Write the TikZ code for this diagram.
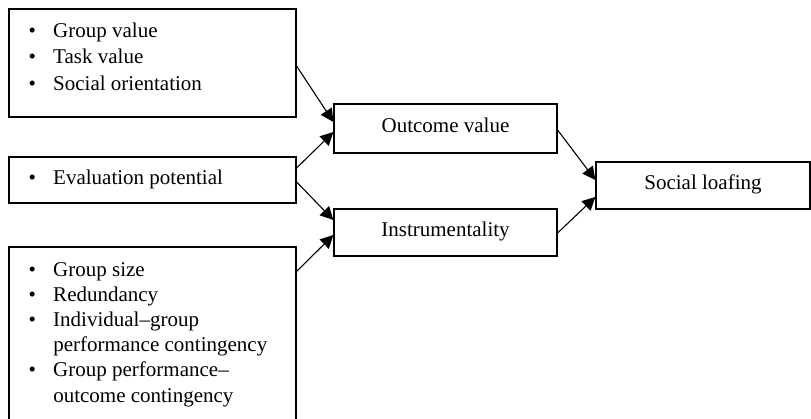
\documentclass[tikz,border=0pt]{standalone}
\usepackage{fontspec}
\setmainfont{Liberation Serif}
\usetikzlibrary{arrows.meta}
\begin{document}
\begin{tikzpicture}[x=1pt,y=-1pt,
  box/.style={draw, line width=1.2pt, rectangle, inner sep=0pt},
  label/.style={box, text height=14pt, text depth=5.5pt, font=\fontsize{21}{25}\selectfont},
  listtext/.style={anchor=base west, inner sep=0pt},
  link/.style={line width=1.1pt, -{Triangle[length=13pt,width=13pt]}}]
\useasboundingbox (0,0) rectangle (811,418);
\clip (0,0) rectangle (811,418);

% antecedent boxes
\node[box, minimum width=287pt, minimum height=108pt] (b1) at (152.5,63) {};
\node[box, minimum width=287pt, minimum height=46pt] (b2) at (152.5,180) {};
\node[box, minimum width=287pt, minimum height=193pt] (b3) at (152.5,343.5) {};

\node[listtext, font=\fontsize{21}{26.5}\selectfont] (t1) at (28.5,37) {%
  \begin{tabular}[t]{@{}l@{\hspace{17.2pt}}l@{}}
  \textbullet & Group value\\
  \textbullet & Task value\\
  \textbullet & Social orientation
  \end{tabular}};
\node[listtext, font=\fontsize{21}{25}\selectfont] (t2) at (28.5,184) {%
  \begin{tabular}[t]{@{}l@{\hspace{17.2pt}}l@{}}
  \textbullet & Evaluation potential
  \end{tabular}};
\node[listtext, font=\fontsize{21}{25.2}\selectfont] (t3) at (28.5,276) {%
  \begin{tabular}[t]{@{}l@{\hspace{17.2pt}}l@{}}
  \textbullet & Group size\\
  \textbullet & Redundancy\\
  \textbullet & Individual–group\\
              & performance contingency\\
  \textbullet & Group performance–\\
              & outcome contingency
  \end{tabular}};

% mediators and outcome
\node[label, minimum width=223pt, minimum height=49pt] (oc) at (445.5,128.5) {Outcome value};
\node[label, minimum width=223pt, minimum height=47pt] (in) at (445.5,232.5) {Instrumentality};
\node[label, minimum width=214pt, minimum height=47pt] (sl) at (703,185.5) {Social loafing};

% paths
\draw[link] ([yshift=-3pt]b1.east) -- ([yshift=6.5pt]oc.west);
\draw[link] ([yshift=12pt]b2.east) -- ([yshift=-3.5pt]oc.west);
\draw[link] ([yshift=-2pt]b2.east) -- ([yshift=12.5pt]in.west);
\draw[link] ([yshift=-25pt]b3.north east) -- ([yshift=-2.5pt]in.west);
\draw[link] ([yshift=-1.5pt]oc.east) -- ([yshift=5.5pt]sl.west);
\draw[link] ([yshift=-0.5pt]in.east) -- ([yshift=-11.5pt]sl.west);
\end{tikzpicture}
\end{document}
